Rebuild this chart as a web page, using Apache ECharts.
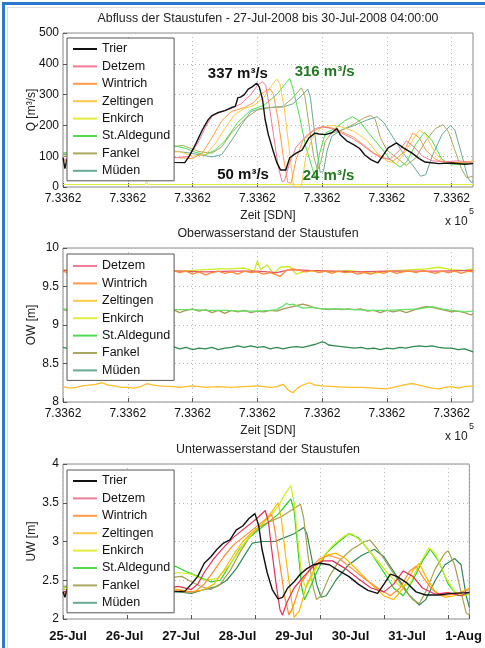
<!DOCTYPE html>
<html><head><meta charset="utf-8">
<script src="https://cdn.jsdelivr.net/npm/echarts@6/dist/echarts.min.js"></script>
<style>html,body{margin:0;padding:0;background:#fff}#c{width:485px;height:648px}</style>
</head><body><div id="c"></div>
<script>
// ---- text / ticks ----
const titles = ['Abfluss der Staustufen - 27-Jul-2008 bis 30-Jul-2008 04:00:00', 'Oberwasserstand der Staustufen', 'Unterwasserstand der Staustufen'];
const yNames = ['Q [m³/s]', 'OW [m]', 'UW [m]'];
const xName = 'Zeit [SDN]';
const sdnTickLabel = '7.3362';
const dateTickLabels = ['25-Jul', '26-Jul', '27-Jul', '28-Jul', '29-Jul', '30-Jul', '31-Jul', '1-Aug'];
// where the date labels sit on the bottom axis (in grid-day units, as in the picture)
const dateTickPos = [0.08, 0.96, 1.84, 2.72, 3.60, 4.48, 5.36, 6.24];
const legendQ = ['Trier', 'Detzem', 'Wintrich', 'Zeltingen', 'Enkirch', 'St.Aldegund', 'Fankel', 'Müden'];
const legendOW = ['Detzem', 'Wintrich', 'Zeltingen', 'Enkirch', 'St.Aldegund', 'Fankel', 'Müden'];
const legendUW = ['Trier', 'Detzem', 'Wintrich', 'Zeltingen', 'Enkirch', 'St.Aldegund', 'Fankel', 'Müden'];
// annotations: [text, day, Q, colour key]
const qAnnotations = [['337 m³/s', 2.70, 367, 'k'], ['316 m³/s', 4.04, 373, 'g'], ['50 m³/s', 2.78, 39, 'k'], ['24 m³/s', 4.10, 37, 'g']];

// ---- Q [m3/s], x = grid units (days) ----
const qTrier = [[0,95],[0.03,60],[0.06,90],[0.3,95],[0.6,88],[1.0,92],[1.4,85],[1.72,80],[1.88,79],[1.95,100],[2.05,140],[2.15,185],[2.24,218],[2.3,232],[2.4,242],[2.5,248],[2.6,258],[2.66,262],[2.7,290],[2.74,292],[2.8,300],[2.86,318],[2.92,325],[2.99,337],[3.03,325],[3.08,285],[3.12,220],[3.17,170],[3.24,120],[3.3,80],[3.36,55],[3.44,55],[3.5,95],[3.6,110],[3.69,120],[3.8,160],[3.89,175],[3.95,172],[4.05,170],[4.15,176],[4.23,190],[4.28,170],[4.38,150],[4.5,136],[4.58,125],[4.66,104],[4.76,88],[4.86,78],[4.95,105],[5.02,127],[5.15,143],[5.25,128],[5.39,110],[5.5,92],[5.59,81],[5.8,76],[6.0,78],[6.2,74],[6.33,76]];
const qDetzem = [[0,90],[0.5,95],[1.0,100],[1.5,98],[1.75,95],[1.95,100],[2.1,150],[2.2,195],[2.3,230],[2.45,245],[2.6,255],[2.75,270],[2.9,300],[3.0,330],[3.08,342],[3.13,330],[3.18,270],[3.25,170],[3.32,70],[3.38,18],[3.42,20],[3.5,80],[3.6,130],[3.75,165],[3.9,190],[4.0,195],[4.15,190],[4.3,175],[4.45,160],[4.6,140],[4.75,115],[4.9,95],[5.05,90],[5.2,120],[5.3,150],[5.42,130],[5.55,100],[5.7,85],[5.9,82],[6.1,85],[6.33,80]];
const qWintrich = [[0,85],[0.5,95],[1.0,105],[1.5,100],[1.8,95],[2.0,92],[2.15,110],[2.3,160],[2.45,215],[2.6,245],[2.8,258],[2.95,275],[3.05,300],[3.15,315],[3.2,318],[3.25,300],[3.32,220],[3.4,100],[3.47,15],[3.52,12],[3.6,90],[3.7,150],[3.85,180],[4.0,195],[4.15,192],[4.3,180],[4.5,160],[4.65,135],[4.8,110],[4.95,95],[5.1,85],[5.25,110],[5.4,175],[5.5,160],[5.6,120],[5.75,90],[5.9,78],[6.1,80],[6.33,78]];
const qZeltingen = [[0,100],[0.5,110],[1.0,115],[1.5,110],[1.8,115],[2.0,100],[2.2,105],[2.35,140],[2.5,190],[2.65,235],[2.8,255],[2.95,265],[3.1,290],[3.22,330],[3.3,350],[3.35,335],[3.42,250],[3.5,110],[3.56,2],[3.68,2],[3.75,100],[3.85,160],[4.0,195],[4.15,200],[4.3,195],[4.5,180],[4.7,150],[4.85,110],[5.0,85],[5.15,75],[5.3,120],[5.5,185],[5.6,170],[5.72,120],[5.85,85],[6.0,75],[6.2,80],[6.33,85]];
const qEnkirch = [[0,8],[1.27,8],[1.29,20],[1.31,8],[6.33,8]];
const qStAldegund = [[0,110],[0.5,120],[1.0,125],[1.5,128],[1.7,135],[1.9,125],[2.05,112],[2.2,105],[2.35,120],[2.5,150],[2.7,210],[2.9,250],[3.1,265],[3.3,300],[3.45,340],[3.5,352],[3.55,320],[3.65,230],[3.75,130],[3.85,60],[3.9,28],[3.95,100],[4.05,175],[4.2,190],[4.35,215],[4.47,228],[4.57,215],[4.7,180],[4.9,130],[5.05,90],[5.2,65],[5.3,80],[5.45,140],[5.58,178],[5.7,150],[5.85,90],[6.0,72],[6.15,75],[6.33,78]];
const qFankel = [[0,110],[0.5,120],[1.0,130],[1.5,125],[1.85,135],[2.1,115],[2.3,110],[2.45,130],[2.6,175],[2.8,220],[3.0,250],[3.2,258],[3.4,262],[3.55,290],[3.68,322],[3.73,300],[3.8,200],[3.87,100],[3.93,55],[3.98,80],[4.05,150],[4.15,175],[4.3,185],[4.5,205],[4.65,225],[4.75,232],[4.82,220],[4.9,160],[5.0,120],[5.15,95],[5.3,70],[5.45,95],[5.6,150],[5.75,190],[5.87,202],[5.95,180],[6.05,120],[6.15,60],[6.23,30],[6.33,35]];
const qMueden = [[0,105],[0.5,115],[1.0,125],[1.4,125],[1.65,118],[1.9,112],[2.1,105],[2.3,98],[2.45,105],[2.6,150],[2.75,200],[2.9,245],[3.05,255],[3.2,258],[3.4,260],[3.55,270],[3.7,300],[3.78,318],[3.82,290],[3.87,200],[3.92,120],[3.97,48],[4.02,50],[4.08,120],[4.15,165],[4.3,185],[4.5,200],[4.7,218],[4.85,228],[4.95,210],[5.1,160],[5.25,110],[5.4,70],[5.52,35],[5.6,40],[5.7,100],[5.85,170],[5.98,200],[6.05,185],[6.15,110],[6.25,30],[6.3,15],[6.33,18]];

// ---- OW [m] ----
const owDetzem = [[0,9.71],[0.3,9.70],[0.6,9.72],[1.0,9.70],[1.4,9.71],[1.8,9.70],[2.2,9.69],[2.6,9.70],[3.0,9.70],[3.3,9.68],[3.5,9.72],[3.8,9.71],[4.2,9.70],[4.6,9.69],[5.0,9.70],[5.4,9.70],[5.8,9.70],[6.33,9.71]];
const owWintrich = [[0,9.70],[0.1,9.67],[0.2,9.71],[0.3,9.68],[0.4,9.70],[0.5,9.66],[0.6,9.70],[0.7,9.68],[0.8,9.71],[0.9,9.67],[1.0,9.69],[1.1,9.66],[1.2,9.70],[1.3,9.68],[1.4,9.70],[1.5,9.67],[1.6,9.69],[1.7,9.71],[1.8,9.68],[1.9,9.70],[2.0,9.66],[2.1,9.69],[2.2,9.65],[2.3,9.68],[2.4,9.70],[2.5,9.67],[2.6,9.69],[2.7,9.66],[2.8,9.70],[2.9,9.68],[3.0,9.69],[3.1,9.66],[3.2,9.68],[3.3,9.65],[3.35,9.63],[3.4,9.67],[3.45,9.71],[3.55,9.73],[3.65,9.71],[3.75,9.69],[3.85,9.71],[3.95,9.68],[4.05,9.70],[4.15,9.67],[4.25,9.70],[4.35,9.68],[4.45,9.69],[4.55,9.66],[4.65,9.68],[4.75,9.66],[4.85,9.69],[4.95,9.67],[5.05,9.70],[5.15,9.67],[5.25,9.69],[5.35,9.70],[5.45,9.68],[5.55,9.71],[5.65,9.69],[5.75,9.67],[5.85,9.70],[5.95,9.68],[6.05,9.70],[6.15,9.67],[6.25,9.70],[6.33,9.69]];
const owZeltingen = [[0,8.20],[0.1,8.18],[0.2,8.19],[0.3,8.21],[0.4,8.22],[0.5,8.23],[0.6,8.25],[0.7,8.22],[0.8,8.21],[0.9,8.19],[1.0,8.19],[1.1,8.18],[1.2,8.20],[1.3,8.24],[1.4,8.22],[1.5,8.21],[1.7,8.20],[1.8,8.19],[2.0,8.21],[2.2,8.19],[2.4,8.20],[2.6,8.19],[2.8,8.20],[3.0,8.21],[3.2,8.19],[3.3,8.20],[3.4,8.23],[3.48,8.15],[3.55,8.12],[3.62,8.18],[3.7,8.22],[3.8,8.25],[3.9,8.22],[4.0,8.21],[4.2,8.20],[4.4,8.19],[4.6,8.19],[4.8,8.18],[5.0,8.17],[5.1,8.19],[5.2,8.21],[5.3,8.23],[5.4,8.24],[5.5,8.22],[5.6,8.20],[5.7,8.18],[5.8,8.17],[5.9,8.19],[6.0,8.20],[6.1,8.18],[6.2,8.20],[6.33,8.21]];
const owEnkirch = [[0,9.72],[0.2,9.70],[0.4,9.71],[0.6,9.72],[0.8,9.73],[1.0,9.71],[1.2,9.70],[1.4,9.71],[1.6,9.72],[1.8,9.70],[2.0,9.71],[2.2,9.72],[2.4,9.73],[2.6,9.73],[2.8,9.74],[2.95,9.70],[3.0,9.83],[3.05,9.72],[3.15,9.78],[3.25,9.66],[3.35,9.75],[3.5,9.76],[3.6,9.66],[3.75,9.70],[4.0,9.70],[4.2,9.69],[4.4,9.71],[4.6,9.69],[4.8,9.67],[5.0,9.70],[5.2,9.71],[5.4,9.72],[5.6,9.73],[5.8,9.75],[6.0,9.72],[6.2,9.71],[6.33,9.73]];
const owStAldegund = [[0,9.21],[0.25,9.20],[0.5,9.20],[0.75,9.21],[1.0,9.21],[1.25,9.20],[1.5,9.19],[1.75,9.20],[2.0,9.20],[2.25,9.19],[2.5,9.19],[2.75,9.18],[3.0,9.18],[3.2,9.19],[3.3,9.20],[3.4,9.25],[3.45,9.28],[3.5,9.26],[3.55,9.27],[3.7,9.22],[3.85,9.23],[4.0,9.21],[4.25,9.21],[4.5,9.20],[4.75,9.19],[5.0,9.19],[5.25,9.20],[5.5,9.21],[5.7,9.24],[5.85,9.21],[6.0,9.19],[6.2,9.17],[6.33,9.18]];
const owFankel = [[0,9.20],[0.1,9.18],[0.2,9.21],[0.3,9.17],[0.4,9.20],[0.5,9.19],[0.6,9.21],[0.7,9.18],[0.8,9.20],[0.9,9.17],[1.0,9.19],[1.1,9.21],[1.2,9.18],[1.3,9.22],[1.4,9.19],[1.5,9.20],[1.6,9.17],[1.7,9.20],[1.8,9.16],[1.9,9.19],[2.0,9.21],[2.1,9.18],[2.2,9.20],[2.3,9.16],[2.4,9.19],[2.5,9.15],[2.6,9.19],[2.7,9.17],[2.8,9.19],[2.9,9.16],[3.0,9.18],[3.1,9.17],[3.2,9.19],[3.3,9.18],[3.4,9.21],[3.5,9.23],[3.6,9.25],[3.7,9.27],[3.8,9.25],[3.9,9.22],[4.0,9.21],[4.1,9.20],[4.2,9.21],[4.3,9.20],[4.4,9.21],[4.5,9.20],[4.6,9.21],[4.7,9.18],[4.8,9.19],[4.9,9.16],[5.0,9.19],[5.1,9.17],[5.2,9.19],[5.3,9.16],[5.4,9.19],[5.5,9.22],[5.6,9.24],[5.7,9.23],[5.8,9.21],[5.9,9.19],[6.0,9.17],[6.1,9.18],[6.2,9.16],[6.3,9.13],[6.33,9.15]];
const owMueden = [[0,8.71],[0.1,8.69],[0.2,8.72],[0.3,8.68],[0.4,8.70],[0.5,8.69],[0.6,8.72],[0.7,8.68],[0.8,8.71],[0.9,8.68],[1.0,8.70],[1.1,8.72],[1.2,8.69],[1.3,8.71],[1.4,8.68],[1.5,8.71],[1.6,8.69],[1.7,8.72],[1.8,8.69],[1.9,8.71],[2.0,8.68],[2.1,8.70],[2.2,8.69],[2.3,8.71],[2.4,8.68],[2.5,8.70],[2.6,8.71],[2.7,8.73],[2.8,8.71],[2.9,8.73],[3.0,8.71],[3.1,8.72],[3.2,8.69],[3.3,8.71],[3.4,8.69],[3.5,8.71],[3.6,8.72],[3.7,8.71],[3.8,8.73],[3.9,8.75],[4.0,8.78],[4.05,8.77],[4.1,8.74],[4.2,8.73],[4.3,8.72],[4.4,8.71],[4.5,8.70],[4.6,8.71],[4.7,8.69],[4.8,8.70],[4.9,8.68],[5.0,8.70],[5.1,8.69],[5.2,8.71],[5.3,8.70],[5.4,8.72],[5.5,8.73],[5.6,8.72],[5.7,8.73],[5.8,8.71],[5.9,8.70],[6.0,8.70],[6.1,8.68],[6.2,8.69],[6.3,8.66],[6.33,8.65]];

// ---- UW [m] ----
const uwTrier = [[0,2.35],[0.03,2.28],[0.06,2.38],[0.5,2.4],[1.0,2.38],[1.5,2.36],[1.72,2.35],[1.9,2.36],[2.0,2.45],[2.1,2.55],[2.2,2.72],[2.3,2.8],[2.4,2.9],[2.5,2.98],[2.6,3.02],[2.7,3.15],[2.8,3.2],[2.9,3.3],[2.99,3.36],[3.05,3.2],[3.1,2.9],[3.18,2.6],[3.26,2.38],[3.35,2.26],[3.42,2.28],[3.5,2.4],[3.6,2.48],[3.7,2.58],[3.8,2.65],[3.9,2.7],[4.0,2.72],[4.15,2.7],[4.3,2.62],[4.45,2.55],[4.6,2.45],[4.75,2.37],[4.9,2.33],[5.0,2.45],[5.1,2.58],[5.2,2.55],[5.35,2.47],[5.5,2.35],[5.65,2.31],[5.85,2.31],[6.05,2.33],[6.33,2.34]];
const uwDetzem = [[0,2.35],[0.5,2.38],[1.0,2.4],[1.5,2.38],[1.8,2.42],[2.0,2.38],[2.1,2.45],[2.2,2.6],[2.35,2.78],[2.5,2.92],[2.65,3.05],[2.8,3.15],[2.95,3.25],[3.05,3.32],[3.15,3.4],[3.2,3.25],[3.25,2.9],[3.32,2.45],[3.38,2.12],[3.42,2.05],[3.48,2.2],[3.6,2.4],[3.75,2.55],[3.9,2.68],[4.05,2.75],[4.2,2.75],[4.4,2.65],[4.6,2.52],[4.8,2.4],[5.0,2.35],[5.15,2.45],[5.3,2.62],[5.45,2.55],[5.6,2.4],[5.8,2.32],[6.0,2.34],[6.2,2.3],[6.33,2.35]];
const uwWintrich = [[0,2.33],[0.5,2.36],[1.0,2.4],[1.5,2.4],[1.9,2.35],[2.05,2.35],[2.2,2.45],[2.35,2.62],[2.5,2.8],[2.65,2.95],[2.8,3.05],[2.95,3.15],[3.1,3.25],[3.25,3.35],[3.3,3.15],[3.38,2.7],[3.45,2.3],[3.52,2.05],[3.58,2.15],[3.7,2.45],[3.85,2.65],[4.0,2.78],[4.15,2.82],[4.3,2.78],[4.5,2.65],[4.7,2.52],[4.9,2.4],[5.1,2.3],[5.25,2.4],[5.4,2.62],[5.5,2.68],[5.6,2.55],[5.75,2.38],[5.9,2.3],[6.1,2.32],[6.33,2.38]];
const uwZeltingen = [[0,2.38],[0.5,2.42],[1.0,2.4],[1.5,2.42],[2.0,2.35],[2.2,2.38],[2.35,2.45],[2.5,2.62],[2.65,2.82],[2.8,3.0],[2.95,3.12],[3.1,3.22],[3.25,3.38],[3.35,3.5],[3.4,3.3],[3.47,2.8],[3.55,2.3],[3.6,2.02],[3.68,2.1],[3.8,2.45],[3.95,2.7],[4.1,2.82],[4.25,2.85],[4.4,2.78],[4.6,2.62],[4.8,2.45],[5.0,2.3],[5.15,2.25],[5.3,2.4],[5.45,2.62],[5.55,2.72],[5.65,2.55],[5.8,2.35],[5.95,2.28],[6.1,2.3],[6.33,2.4]];
const uwEnkirch = [[0,2.4],[0.5,2.45],[1.0,2.5],[1.5,2.55],[1.8,2.6],[2.0,2.58],[2.2,2.5],[2.4,2.52],[2.6,2.7],[2.8,2.95],[3.0,3.15],[3.2,3.3],[3.35,3.45],[3.45,3.6],[3.55,3.72],[3.6,3.5],[3.66,3.0],[3.72,2.55],[3.78,2.4],[3.85,2.5],[4.0,2.75],[4.2,2.95],[4.4,3.08],[4.5,3.1],[4.65,3.0],[4.85,2.8],[5.05,2.6],[5.25,2.42],[5.4,2.45],[5.55,2.7],[5.7,2.92],[5.8,2.85],[5.95,2.55],[6.1,2.35],[6.25,2.3],[6.33,2.32]];
const uwStAldegund = [[0,2.4],[0.5,2.48],[1.0,2.55],[1.5,2.62],[1.75,2.68],[1.9,2.62],[2.1,2.55],[2.3,2.48],[2.45,2.5],[2.6,2.7],[2.75,2.9],[2.9,3.05],[3.05,3.15],[3.2,3.25],[3.35,3.35],[3.5,3.5],[3.55,3.55],[3.6,3.4],[3.66,2.9],[3.72,2.4],[3.76,2.25],[3.82,2.35],[3.95,2.6],[4.1,2.85],[4.3,3.0],[4.45,3.1],[4.6,3.05],[4.8,2.85],[5.0,2.6],[5.15,2.4],[5.3,2.3],[5.45,2.5],[5.6,2.75],[5.72,2.9],[5.85,2.75],[6.0,2.45],[6.15,2.3],[6.33,2.32]];
const uwFankel = [[0,2.42],[0.5,2.45],[1.0,2.5],[1.5,2.52],[1.85,2.55],[2.0,2.48],[2.15,2.42],[2.3,2.38],[2.45,2.45],[2.6,2.62],[2.75,2.85],[2.9,3.05],[3.05,3.18],[3.2,3.25],[3.4,3.32],[3.55,3.4],[3.7,3.48],[3.75,3.3],[3.82,2.8],[3.9,2.4],[3.95,2.25],[4.02,2.3],[4.15,2.55],[4.3,2.75],[4.5,2.9],[4.7,3.0],[4.78,3.02],[4.9,2.9],[5.1,2.65],[5.3,2.4],[5.45,2.25],[5.55,2.2],[5.65,2.35],[5.8,2.65],[5.95,2.85],[6.0,2.88],[6.1,2.7],[6.2,2.35],[6.28,2.08],[6.33,2.05]];
const uwMueden = [[0,2.35],[0.5,2.4],[1.0,2.42],[1.5,2.4],[1.8,2.35],[2.0,2.33],[2.2,2.38],[2.4,2.42],[2.55,2.5],[2.7,2.65],[2.85,2.85],[2.95,2.98],[3.1,3.0],[3.3,3.0],[3.45,3.05],[3.6,3.1],[3.75,3.18],[3.8,3.1],[3.87,2.8],[3.95,2.45],[4.02,2.28],[4.1,2.3],[4.25,2.5],[4.45,2.7],[4.65,2.82],[4.85,2.9],[5.0,2.8],[5.2,2.55],[5.4,2.3],[5.55,2.18],[5.65,2.25],[5.8,2.5],[5.95,2.7],[6.1,2.78],[6.2,2.7],[6.28,2.3],[6.33,2.15]];

// ---- styling ----
const FONT = '"Liberation Sans", Arial, Helvetica, sans-serif';
const col1 = {'Trier':'#111111','Detzem':'#f07c98','Wintrich':'#ff9a4a','Zeltingen':'#ffc845','Enkirch':'#e2ec3c','St.Aldegund':'#4fdc4f','Fankel':'#a8a860','Müden':'#6aa898'};
const col2 = {'Detzem':'#e8506e','Wintrich':'#ff8a3a','Zeltingen':'#ffbe28','Enkirch':'#c8ee20','St.Aldegund':'#66e066','Fankel':'#a89a58','Müden':'#2f8a50'};
const col3 = {'Trier':'#111111','Detzem':'#e0305a','Wintrich':'#ff8c30','Zeltingen':'#ffb800','Enkirch':'#c8f020','St.Aldegund':'#28d028','Fankel':'#a8a050','Müden':'#2f8858'};
const annColor = {k:'#111111', g:'#227722'};

const panels = [
  {top:33, height:154, yMin:0, yMax:500, yInt:100, labels:'sdn', lw:1,
   series:[['Müden',qMueden],['Fankel',qFankel],['St.Aldegund',qStAldegund],['Enkirch',qEnkirch],['Zeltingen',qZeltingen],['Wintrich',qWintrich],['Detzem',qDetzem],['Trier',qTrier]], colors:col1, legend:legendQ, legendTop:38, padTop:4},
  {top:248, height:154, yMin:8, yMax:10, yInt:0.5, labels:'sdn', lw:1.3,
   series:[['Müden',owMueden],['Fankel',owFankel],['St.Aldegund',owStAldegund],['Zeltingen',owZeltingen],['Enkirch',owEnkirch],['Detzem',owDetzem],['Wintrich',owWintrich]], colors:col2, legend:legendOW, legendTop:254, padTop:5},
  {top:464, height:155, yMin:2, yMax:4, yInt:0.5, labels:'date', lw:1.2,
   series:[['Müden',uwMueden],['Fankel',uwFankel],['St.Aldegund',uwStAldegund],['Enkirch',uwEnkirch],['Zeltingen',uwZeltingen],['Wintrich',uwWintrich],['Detzem',uwDetzem],['Trier',uwTrier]], colors:col3, legend:legendUW, legendTop:470, padTop:4}
];

const grid = [], xAxis = [], yAxis = [], series = [], legend = [], title = [];
panels.forEach((p, i) => {
  const sdn = p.labels === 'sdn';
  grid.push({left:63, width:410, top:p.top, height:p.height, show:true, borderColor:'#8a8a8a', borderWidth:1, backgroundColor:'transparent'});
  const xLabel = {
    showMaxLabel:false, showMinLabel:true,
    margin: sdn ? 6 : 11,
    fontFamily:FONT, fontSize: sdn ? 12 : 13, fontWeight: sdn ? 'normal' : 'bold', color:'#111',
    formatter: sdn ? (() => sdnTickLabel) : ((v) => {
      let k = 0, best = 1e9;
      dateTickPos.forEach((d, j) => { if (Math.abs(d - v) < best) { best = Math.abs(d - v); k = j; } });
      return dateTickLabels[k];
    })
  };
  if (!sdn) { xLabel.customValues = dateTickPos; xLabel.showMaxLabel = true; }
  xAxis.push({
    type:'value', gridIndex:i, min:0, max:6.33, interval:1,
    name: sdn ? xName : '', nameLocation:'middle', nameGap:23, nameMoveOverlap:false,
    nameTextStyle:{fontFamily:FONT, fontSize:12, color:'#222'},
    axisLine:{show:false},
    axisTick:{show:true, inside:true, length:4, lineStyle:{color:'#555'}},
    splitLine:{show:true, lineStyle:{type:[1,3], color:'#b8b8b8', width:1}},
    axisLabel:xLabel
  });
  yAxis.push({
    type:'value', gridIndex:i, min:p.yMin, max:p.yMax, interval:p.yInt,
    name:yNames[i], nameLocation:'middle', nameGap:25, nameMoveOverlap:false,
    nameTextStyle:{fontFamily:FONT, fontSize:12, color:'#222'},
    axisLine:{show:false},
    axisTick:{show:true, inside:true, length:4, lineStyle:{color:'#555'}},
    splitLine:{show:true, lineStyle:{type:[1,3], color:'#b8b8b8', width:1}},
    axisLabel:{margin:4, fontFamily:FONT, fontSize:12, color:'#111'}
  });
  p.series.forEach(([name, data]) => {
    const s = {
      type:'line', name, xAxisIndex:i, yAxisIndex:i, data,
      showSymbol:false, symbol:'none', smooth:false,
      color:p.colors[name],
      lineStyle:{width: name === 'Trier' ? 1.4 : p.lw, color:p.colors[name]},
      silent:true, z:2
    };
    if (i === 0 && name === 'Trier') {
      s.markPoint = {
        symbol:'rect', symbolSize:[1,1], itemStyle:{color:'rgba(0,0,0,0)'}, silent:true,
        data: qAnnotations.map(a => ({name:a[0], coord:[a[1], a[2]],
          label:{show:true, position:'inside', formatter:a[0], fontFamily:FONT, fontSize:15, fontWeight:'bold', color:annColor[a[3]]}}))
      };
    }
    series.push(s);
  });
  legend.push({
    data:p.legend, orient:'vertical', left:67, top:p.legendTop,
    padding:[p.padTop, 4, 3, 6], itemGap:3.4, itemWidth:24, itemHeight:2, icon:'rect',
    itemStyle:{borderWidth:0},
    textStyle:{fontFamily:FONT, fontSize:12.5, color:'#111', lineHeight:14},
    backgroundColor:'#ffffff', borderColor:'#555', borderWidth:1, borderRadius:0,
    selectedMode:false, z:10
  });
  title.push({
    text:titles[i], left:268, textAlign:'center', top:[13, 228, 444][i], padding:0,
    textStyle:{fontFamily:FONT, fontSize:12.4, fontWeight:'normal', color:'#222'}
  });
});

const graphic = [
  {type:'rect', shape:{x:2, y:2, width:3, height:646}, style:{fill:'#2a78cf'}, silent:true},
  {type:'rect', shape:{x:2, y:2, width:483, height:3}, style:{fill:'#2a78cf'}, silent:true},
  {type:'rect', shape:{x:7, y:7, width:1, height:641}, style:{fill:'#dddddd'}, silent:true},
  {type:'rect', shape:{x:7, y:7, width:478, height:1}, style:{fill:'#dddddd'}, silent:true},
  {type:'text', left:445, top:216, style:{text:'x 10', font:'12px ' + FONT, fill:'#222'}, silent:true},
  {type:'text', left:469, top:207, style:{text:'5', font:'9px ' + FONT, fill:'#222'}, silent:true},
  {type:'text', left:445, top:431, style:{text:'x 10', font:'12px ' + FONT, fill:'#222'}, silent:true},
  {type:'text', left:469, top:422, style:{text:'5', font:'9px ' + FONT, fill:'#222'}, silent:true}
];

const chart = echarts.init(document.getElementById('c'), null, {renderer:'canvas'});
chart.setOption({animation:false, backgroundColor:'#ffffff', title, grid, xAxis, yAxis, legend, series, graphic});
</script></body></html>
